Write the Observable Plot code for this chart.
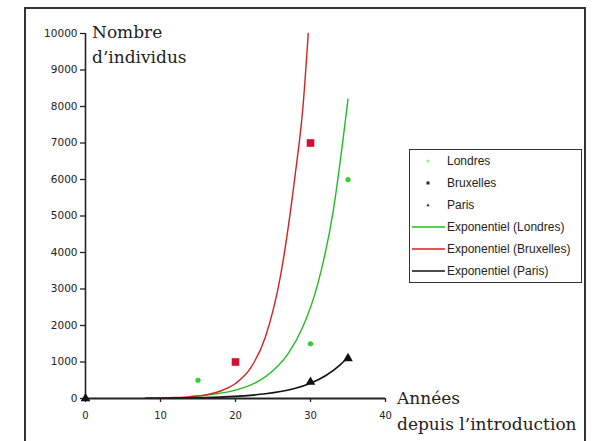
<!DOCTYPE html>
<html>
<head>
<meta charset="utf-8">
<script src="https://cdn.jsdelivr.net/npm/d3@7"></script>
<script src="https://cdn.jsdelivr.net/npm/@observablehq/plot@0.6"></script>
<style>
  body { margin: 0; background: #fff; }
  #wrap { position: relative; width: 595px; height: 441px; overflow: hidden; background: #fff; }
  #frame { position: absolute; left: 24px; top: 7px; width: 562px; height: 470px; border: 2px solid #333; box-sizing: border-box; pointer-events: none; }
  #chart { position: absolute; left: 0; top: 0; }
  .lab { position: absolute; font-family: "DejaVu Serif", serif; font-size: 17px; line-height: 16px; color: #222; white-space: nowrap; }
  #legend { position: absolute; left: 409px; top: 149px; width: 173px; height: 134px; border: 1.5px solid #333; box-sizing: border-box; background: #fff; }
  .row { position: absolute; left: 0; height: 22px; width: 100%; font-family: "Liberation Sans", Arial, sans-serif; font-size: 12px; color: #222; }
  .row svg { position: absolute; left: 2px; top: 0; }
  .row span { position: absolute; left: 37px; top: 4px; white-space: nowrap; }
</style>
</head>
<body>
<div id="wrap">
  <div id="chart"></div>
  <div id="frame"></div>
  <div class="lab" style="left:92px; top:24px;">Nombre</div>
  <div class="lab" style="left:92px; top:49px;">d’individus</div>
  <div class="lab" style="left:397px; top:390px;">Années</div>
  <div class="lab" style="left:397px; top:416px;">depuis l’introduction</div>
  <div id="legend"></div>
</div>
<script>
// ---- data ----
const xTicks = [0, 10, 20, 30, 40];
const yTicks = [0, 1000, 2000, 3000, 4000, 5000, 6000, 7000, 8000, 9000, 10000];

const seriesNames = ["Londres", "Bruxelles", "Paris"];
const seriesColors = ["#33cc33", "#d01035", "#111111"];
const trendColors = ["#22bb22", "#d42020", "#111111"];

// observed points
const londresX = [15, 30, 35];
const londresY = [500, 1500, 6000];
const bruxellesX = [20, 30];
const bruxellesY = [1000, 7000];
const parisX = [0, 30, 35];
const parisY = [0, 450, 1100];

// exponential trend curves
const trendLondresX = [14, 15, 17, 19, 21, 23, 25, 27, 29, 31, 33, 35];
const trendLondresY = [55, 70, 115, 180, 290, 470, 760, 1220, 1970, 3160, 5100, 8200];
const trendBruxellesX = [8, 10, 12, 14, 16, 18, 20, 22, 24, 26, 28, 29, 29.7];
const trendBruxellesY = [7, 13, 26, 52, 100, 205, 410, 830, 1690, 3360, 6200, 8000, 10000];
const trendParisX = [8, 10, 12, 14, 16, 18, 20, 22, 24, 26, 28, 30, 32, 34, 35];
const trendParisY = [5, 8, 12, 18, 26, 39, 58, 86, 128, 190, 283, 420, 624, 927, 1130];

const zip = (xs, ys) => xs.map((x, i) => ({x, y: ys[i]}));
const londres = zip(londresX, londresY);
const bruxelles = zip(bruxellesX, bruxellesY);
const paris = zip(parisX, parisY);
const tL = zip(trendLondresX, trendLondresY);
const tB = zip(trendBruxellesX, trendBruxellesY);
const tP = zip(trendParisX, trendParisY);

const chart = Plot.plot({
  width: 595,
  height: 441,
  marginLeft: 85,
  marginRight: 210,
  marginTop: 33,
  marginBottom: 43,
  style: { background: "transparent", color: "#222" },
  x: { domain: [0, 40] },
  y: { domain: [0, 10000] },
  marks: [
    Plot.axisY(yTicks, { tickSize: 5, tickPadding: 3, tickFormat: d => String(d), fontSize: 10.5, fontFamily: "DejaVu Sans", label: null, stroke: "#222", strokeWidth: 1.3 }),
    Plot.axisX(xTicks, { tickSize: 4, tickPadding: 9, tickFormat: d => String(d), fontSize: 10, fontFamily: "DejaVu Sans", label: null, stroke: "#222", strokeWidth: 1.3 }),
    Plot.line(tL, { x: "x", y: "y", stroke: trendColors[0], strokeWidth: 1.4, curve: "monotone-x" }),
    Plot.line(tB, { x: "x", y: "y", stroke: trendColors[1], strokeWidth: 1.4, curve: "monotone-x" }),
    Plot.line(tP, { x: "x", y: "y", stroke: trendColors[2], strokeWidth: 1.6, curve: "monotone-x" }),
    Plot.ruleX([0], { y1: 0, y2: 10000, stroke: "#222", strokeWidth: 1.6 }),
    Plot.ruleY([0], { x1: 0, x2: 40, stroke: "#222", strokeWidth: 1.8 }),
    Plot.dot(londres, { x: "x", y: "y", r: 2.6, fill: seriesColors[0], symbol: "circle" }),
    Plot.dot(bruxelles, { x: "x", y: "y", r: 4.3, fill: seriesColors[1], symbol: "square" }),
    Plot.dot(paris, { x: "x", y: "y", r: 3.6, fill: seriesColors[2], symbol: "triangle" })
  ]
});
document.getElementById("chart").appendChild(chart);

// legend
const legend = document.getElementById("legend");
const rows = [
  ...seriesNames.map((n, i) => ({ label: n, type: "marker", i })),
  ...seriesNames.map((n, i) => ({ label: `Exponentiel (${n})`, type: "line", i }))
];
const symbolFor = ["circle", "square", "triangle"];
rows.forEach((r, k) => {
  const div = document.createElement("div");
  div.className = "row";
  div.style.top = (k * 22) + "px";
  let sw;
  if (r.type === "line") {
    sw = `<svg width="34" height="22"><line x1="0" y1="11" x2="33" y2="11" stroke="${trendColors[r.i]}" stroke-width="1.5"/></svg>`;
  } else {
    const c = ["#9be89b", "#222", "#222"][r.i];
    const s = symbolFor[r.i];
    let shape;
    if (s === "circle") shape = `<circle cx="16" cy="11" r="1.5" fill="${c}"/>`;
    else if (s === "square") shape = `<rect x="14.5" y="9.5" width="3" height="3" fill="${c}"/>`;
    else shape = `<path d="M16,9.5 L17.6,12.3 L14.4,12.3 Z" fill="${c}"/>`;
    sw = `<svg width="34" height="22">${shape}</svg>`;
  }
  div.innerHTML = sw + `<span>${r.label}</span>`;
  legend.appendChild(div);
});
</script>
</body>
</html>
